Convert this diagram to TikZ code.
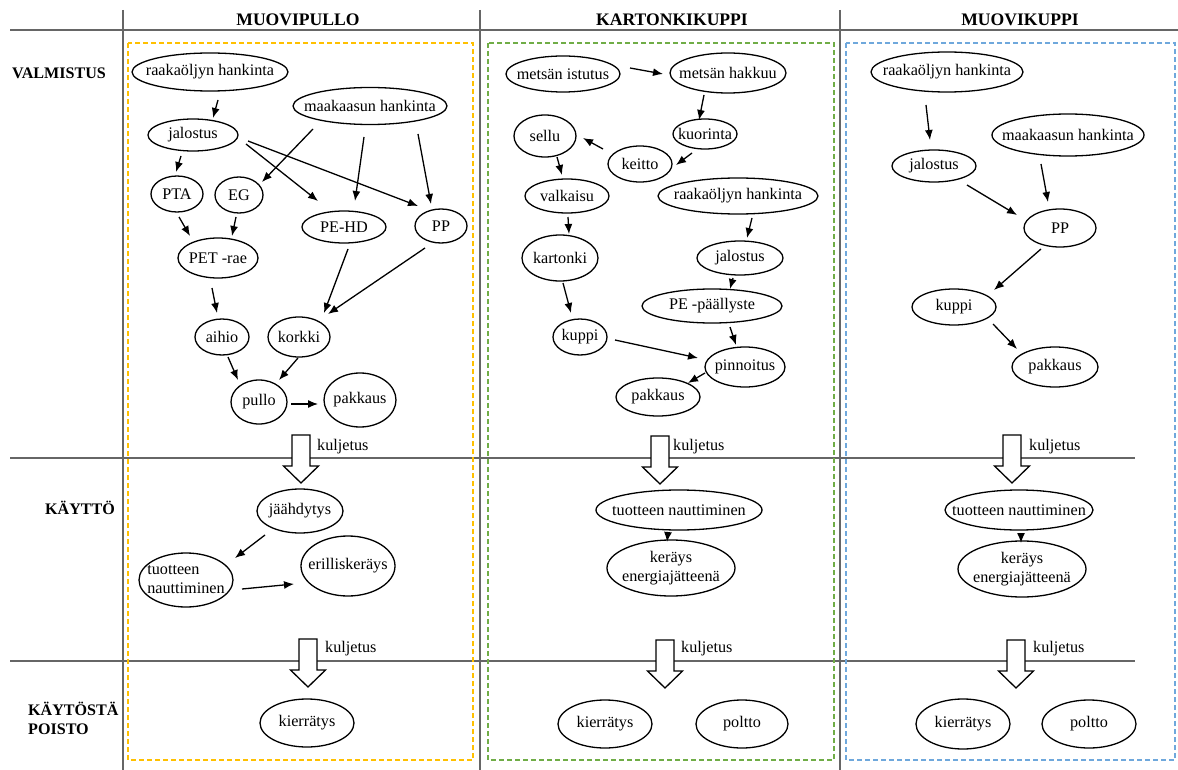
\documentclass[tikz,border=0pt]{standalone}
\usepackage{fontspec}
\setmainfont{Liberation Serif}
\usetikzlibrary{shapes.geometric,arrows.meta}
\definecolor{gridgray}{HTML}{666666}
\definecolor{yel}{HTML}{FFC000}
\definecolor{grn}{HTML}{70AD47}
\definecolor{blu}{HTML}{6FA8DC}
\newcommand\ztext[1]{\makebox[0pt]{#1}}
\newcommand\ztwo[2]{\makebox[0pt]{\begin{tabular}{@{}c@{}}#1\\#2\end{tabular}}}
\newcommand\ztwol[2]{\makebox[0pt]{\begin{tabular}{@{}l@{}}#1\\#2\end{tabular}}}
\tikzset{
  ell/.style={ellipse, draw, line width=1.3pt, inner sep=0pt, fill=white,
    font=\fontsize{16.2}{19}\selectfont},
  sz/.style 2 args={minimum width=#1pt, minimum height=#2pt},
  arr/.style={line width=1.3pt, -{Latex[length=10pt,width=8pt]}},
  gridline/.style={line width=1.4pt, draw=gridgray},
  dbox/.style={line width=1.3pt, dash pattern=on 5pt off 3pt},
  lbl/.style={font=\fontsize{16.2}{19}\selectfont, inner sep=0pt, anchor=west},
  hdr/.style={font=\bfseries\fontsize{17.6}{20}\selectfont, inner sep=0pt},
  rowlbl/.style={font=\bfseries\fontsize{16.1}{19}\selectfont, inner sep=0pt, anchor=west, align=left},
  blk/.pic={\draw[line width=1.3pt, fill=white] (-9,0) -- (9,0) -- (9,31) -- (17.5,31) -- (0,48) -- (-17.5,31) -- (-9,31) -- cycle;}
}
\begin{document}
\begin{tikzpicture}[x=1pt,y=-1pt]
\useasboundingbox (0,0) rectangle (1178,770);
% grid
\draw[gridline] (10,30) -- (1178,30);
\draw[gridline] (10,458) -- (1135,458);
\draw[gridline] (10,661) -- (1135,661);
\draw[gridline] (123,10) -- (123,770);
\draw[gridline] (480,10) -- (480,770);
\draw[gridline] (840,10) -- (840,770);
% dashed boxes
\draw[dbox, draw=yel] (128,43) rectangle (473,760);
\draw[dbox, draw=grn] (488,43) rectangle (834,760);
\draw[dbox, draw=blu] (846,43) rectangle (1175,760);
% headers
\node[hdr] (h1) at (298,20) {MUOVIPULLO};
\node[hdr] (h2) at (672,20) {KARTONKIKUPPI};
\node[hdr] (h3) at (1020,20) {MUOVIKUPPI};
\node[rowlbl] (r1) at (12,73) {VALMISTUS};
\node[rowlbl] (r2) at (45,508) {KÄYTTÖ};
\node[rowlbl] (r3) at (28,718) {KÄYTÖSTÄ\\POISTO};

% ---------- column 1 ----------
\node[ell, sz={156}{38}] (raak1) at (210,72) {\ztext{raakaöljyn hankinta}};
\node[ell, sz={154}{37}] (maak1) at (370,106) {\ztext{maakaasun hankinta}};
\node[ell, sz={90}{32}] (jal1) at (193,135) {\ztext{jalostus}};
\node[ell, sz={52}{36}] (pta) at (177,194) {\ztext{PTA}};
\node[ell, sz={48}{36}] (eg) at (239,195) {\ztext{EG}};
\node[ell, sz={84}{32}] (pehd) at (344,227) {\ztext{PE-HD}};
\node[ell, sz={52}{34}] (pp1) at (441,226) {\ztext{PP}};
\node[ell, sz={80}{40}] (pet) at (218,258) {\ztext{PET -rae}};
\node[ell, sz={54}{36}] (aihio) at (222,337) {\ztext{aihio}};
\node[ell, sz={62}{40}] (korkki) at (299,337) {\ztext{korkki}};
\node[ell, sz={56}{44}] (pullo) at (259,402) {\ztext{pullo}};
\node[ell, sz={72}{54}] (pak1) at (360,400) {\ztext{pakkaus}};
\node[ell, sz={86}{44}] (jaah) at (300,511) {\ztext{jäähdytys}};
\node[ell, sz={94}{54}] (tuot1) at (186,580) {\ztwol{tuotteen}{nauttiminen}};
\node[ell, sz={94}{60}] (eril) at (348,566) {\ztext{erilliskeräys}};
\node[ell, sz={94}{48}] (kier1) at (307,723) {\ztext{kierrätys}};

\draw[arr] ([shift={(8,28)}]raak1.center) -- ([shift={(20,-17)}]jal1.center);
\draw[arr] ([shift={(-12,21)}]jal1.center) -- ([shift={(-1,-22)}]pta.center);
\draw[arr] ([shift={(-57,23)}]maak1.center) -- ([shift={(23,-13)}]eg.center);
\draw[arr] ([shift={(53,9)}]jal1.center) -- ([shift={(-26,-26)}]pehd.center);
\draw[arr] ([shift={(55,6)}]jal1.center) -- ([shift={(-23,-20)}]pp1.center);
\draw[arr] ([shift={(-6,31)}]maak1.center) -- ([shift={(11,-26)}]pehd.center);
\draw[arr] ([shift={(48,28)}]maak1.center) -- ([shift={(-10,-22)}]pp1.center);
\draw[arr] ([shift={(2,23)}]pta.center) -- ([shift={(-28,-22)}]pet.center);
\draw[arr] ([shift={(-3,22)}]eg.center) -- ([shift={(14,-22)}]pet.center);
\draw[arr] ([shift={(4,22)}]pehd.center) -- ([shift={(25,-24)}]korkki.center);
\draw[arr] ([shift={(-16,22)}]pp1.center) -- ([shift={(29,-23)}]korkki.center);
\draw[arr] ([shift={(-6,30)}]pet.center) -- ([shift={(-5,-24)}]aihio.center);
\draw[arr] ([shift={(6,20)}]aihio.center) -- ([shift={(-21,-22)}]pullo.center);
\draw[arr] ([shift={(-1,21)}]korkki.center) -- ([shift={(20,-22)}]pullo.center);
\draw[arr] ([shift={(32,2)}]pullo.center) -- ([shift={(-42,4)}]pak1.center);
\draw[arr] ([shift={(-35,24)}]jaah.center) -- ([shift={(49,-22)}]tuot1.center);
\draw[arr] ([shift={(56,9)}]tuot1.center) -- ([shift={(-54,18)}]eril.center);

% ---------- column 2 ----------
\node[ell, sz={114}{36}] (ist) at (563,74) {\ztext{metsän istutus}};
\node[ell, sz={116}{40}] (hak) at (728,73) {\ztext{metsän hakkuu}};
\node[ell, sz={62}{42}] (sellu) at (545,136) {\ztext{sellu}};
\node[ell, sz={64}{30}] (kuor) at (705,134) {\ztext{kuorinta}};
\node[ell, sz={64}{36}] (keit) at (640,164) {\ztext{keitto}};
\node[ell, sz={84}{34}] (valk) at (567,196) {\ztext{valkaisu}};
\node[ell, sz={160}{36}] (raak2) at (738,196) {\ztext{raakaöljyn hankinta}};
\node[ell, sz={76}{46}] (kart) at (560,258) {\ztext{kartonki}};
\node[ell, sz={86}{34}] (jal2) at (740,258) {\ztext{jalostus}};
\node[ell, sz={140}{34}] (pe) at (712,306) {\ztext{PE -päällyste}};
\node[ell, sz={54}{36}] (kup2) at (580,337) {\ztext{kuppi}};
\node[ell, sz={80}{40}] (pinn) at (745,367) {\ztext{pinnoitus}};
\node[ell, sz={84}{38}] (pak2) at (658,397) {\ztext{pakkaus}};
\node[ell, sz={166}{40}] (tuot2) at (679,510) {\ztext{tuotteen nauttiminen}};
\node[ell, sz={128}{56}] (ker2) at (671,568) {\ztwo{keräys}{energiajätteenä}};
\node[ell, sz={94}{48}] (kier2) at (605,724) {\ztext{kierrätys}};
\node[ell, sz={92}{48}] (polt2) at (742,724) {\ztext{poltto}};

\draw[arr] ([shift={(67,-6)}]ist.center) -- ([shift={(-65,1)}]hak.center);
\draw[arr] ([shift={(-24,22)}]hak.center) -- ([shift={(-6,-14)}]kuor.center);
\draw[arr] ([shift={(-13,19)}]kuor.center) -- ([shift={(36,1)}]keit.center);
\draw[arr] ([shift={(-37,-15)}]keit.center) -- ([shift={(38,2)}]sellu.center);
\draw[arr] ([shift={(12,21)}]sellu.center) -- ([shift={(-5,-21)}]valk.center);
\draw[arr] ([shift={(1,21)}]valk.center) -- ([shift={(9,-24)}]kart.center);
\draw[arr] ([shift={(14,22)}]raak2.center) -- ([shift={(7,-20)}]jal2.center);
\draw[arr] ([shift={(3,25)}]kart.center) -- ([shift={(-9,-24)}]kup2.center);
\draw[arr] ([shift={(-7,20)}]jal2.center) -- ([shift={(18,-17)}]pe.center);
\draw[arr] ([shift={(18,21)}]pe.center) -- ([shift={(-9,-22)}]pinn.center);
\draw[arr] ([shift={(35,3)}]kup2.center) -- ([shift={(-47,-9)}]pinn.center);
\draw[arr] ([shift={(-40,6)}]pinn.center) -- ([shift={(30,-14)}]pak2.center);
\draw[arr] ([shift={(-11,22)}]tuot2.center) -- ([shift={(-4,-26)}]ker2.center);

% ---------- column 3 ----------
\node[ell, sz={152}{40}] (rk3) at (947,72) {\ztext{raakaöljyn hankinta}};
\node[ell, sz={152}{42}] (mk3) at (1068,135) {\ztext{maakaasun hankinta}};
\node[ell, sz={84}{32}] (jal3) at (934,166) {\ztext{jalostus}};
\node[ell, sz={72}{38}] (pp3) at (1060,228) {\ztext{PP}};
\node[ell, sz={84}{36}] (kup3) at (954,307) {\ztext{kuppi}};
\node[ell, sz={86}{40}] (pak3) at (1055,367) {\ztext{pakkaus}};
\node[ell, sz={148}{40}] (tuot3) at (1019,510) {\ztext{tuotteen nauttiminen}};
\node[ell, sz={128}{56}] (ker3) at (1022,569) {\ztwo{keräys}{energiajätteenä}};
\node[ell, sz={94}{50}] (kier3) at (963,724) {\ztext{kierrätys}};
\node[ell, sz={94}{48}] (polt3) at (1089,724) {\ztext{poltto}};

\draw[arr] ([shift={(-21,33)}]rk3.center) -- ([shift={(-4,-26)}]jal3.center);
\draw[arr] ([shift={(-27,29)}]mk3.center) -- ([shift={(-12,-26)}]pp3.center);
\draw[arr] ([shift={(33,19)}]jal3.center) -- ([shift={(-43,-13)}]pp3.center);
\draw[arr] ([shift={(-19,21)}]pp3.center) -- ([shift={(40,-17)}]kup3.center);
\draw[arr] ([shift={(39,17)}]kup3.center) -- ([shift={(-38,-18)}]pak3.center);
\draw[arr] ([shift={(2,23)}]tuot3.center) -- ([shift={(-1,-26)}]ker3.center);

% ---------- transport arrows ----------
\pic (ka1) at (301,435) {blk};
\pic (kb1) at (308,639) {blk};
\pic (ka2) at (660,436) {blk};
\pic (kb2) at (665,640) {blk};
\pic (ka3) at (1012,435) {blk};
\pic (kb3) at (1016,640) {blk};
\node[lbl] (la1) at (317,447) {kuljetus};
\node[lbl] (lb1) at (325,649) {kuljetus};
\node[lbl] (la2) at (673,447) {kuljetus};
\node[lbl] (lb2) at (681,649) {kuljetus};
\node[lbl] (la3) at (1029,447) {kuljetus};
\node[lbl] (lb3) at (1033,649) {kuljetus};
\end{tikzpicture}
\end{document}
